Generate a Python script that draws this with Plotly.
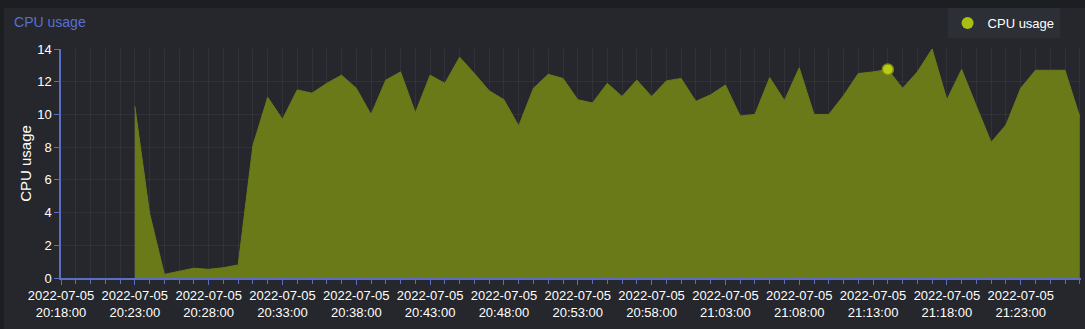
import plotly.graph_objects as go
import pandas as pd

start_time = "2022-07-05 20:23:00"
cpu_usage = [10.5, 3.95, 0.22, 0.43, 0.6, 0.53, 0.63, 0.8, 8.1, 11.05, 9.7, 11.5,
             11.3, 11.9, 12.4, 11.6, 10.0, 12.1, 12.6, 10.1, 12.4, 11.9, 13.5, 12.5,
             11.45, 10.9, 9.3, 11.6, 12.45, 12.2, 10.9, 10.7, 11.9, 11.1, 12.1, 11.1,
             12.05, 12.2, 10.8, 11.2, 11.8, 9.9, 10.0, 12.25, 10.85, 12.85, 10.0, 10.0,
             11.15, 12.5, 12.6, 12.75, 11.6, 12.6, 14.0, 10.9, 12.75, 10.5, 8.3, 9.35,
             11.6, 12.7, 12.7, 12.7, 9.85]
times = pd.date_range(start_time, periods=len(cpu_usage), freq="1min")
hover_index = 51
x_range = ["2022-07-05 20:18:00", "2022-07-05 21:27:05"]
y_ticks = [0, 2, 4, 6, 8, 10, 12, 14]

fill_color = "#6b7a19"
marker_color = "#a8bf14"
axis_color = "#5a6fc4"
grid_color = "rgba(255,255,255,0.055)"
panel_bg = "#25272c"

fig = go.Figure()
fig.add_trace(go.Scatter(
    x=times, y=cpu_usage, mode="lines", name="CPU usage",
    line=dict(color=fill_color, width=1), fill="tozeroy",
    fillcolor=fill_color, showlegend=False,
))
fig.add_trace(go.Scatter(
    x=[times[hover_index]], y=[cpu_usage[hover_index]], mode="markers",
    marker=dict(color="#b8cc14", size=11, line=dict(color="#7d8c12", width=1.5)),
    showlegend=False, hoverinfo="skip",
))
# legend entry
fig.add_trace(go.Scatter(
    x=[None], y=[None], mode="markers", name="CPU usage",
    marker=dict(color=marker_color, size=10),
))

fig.update_layout(
    width=1085, height=329,
    margin=dict(l=61, r=4, t=49, b=51, autoexpand=False),
    paper_bgcolor=panel_bg, plot_bgcolor=panel_bg,
    font=dict(family="Liberation Sans, Arial, sans-serif", color="#ffffff", size=13),
    title=dict(text="CPU usage", x=0.013, xanchor="left", y=1 - 22 / 329, yanchor="middle",
               font=dict(color="#5a6fd0", size=14)),
    legend=dict(x=0.979, xanchor="right", y=1 + 26 / 229, yanchor="middle",
                bgcolor="#2c2f35", font=dict(color="#ffffff", size=13),
                itemsizing="constant"),
    shapes=[
        dict(type="rect", xref="paper", yref="paper", x0=-0.1, x1=1.1,
             y0=1.0 + 41 / 229, y1=1.3, fillcolor="#1c1e22", line=dict(width=0), layer="below"),
        dict(type="rect", xref="paper", yref="paper", x0=-0.1, x1=-57 / 1020,
             y0=-0.3, y1=1.3, fillcolor="#1c1e22", line=dict(width=0), layer="below"),
    ],
    hovermode=False,
)
fig.update_xaxes(
    type="date", range=x_range,
    dtick=5 * 60 * 1000, tick0="2022-07-05 20:18:00",
    tickformat="%Y-%m-%d<br>%H:%M:%S",
    showgrid=True, gridcolor=grid_color, gridwidth=1,
    showline=True, linecolor=axis_color, linewidth=1.5,
    ticks="outside", ticklen=5, tickcolor=axis_color,
    tickfont=dict(size=13, color="#ffffff"),
    minor=dict(dtick=60 * 1000, ticks="outside", ticklen=4, tickcolor=axis_color,
               showgrid=True, gridcolor=grid_color),
    zeroline=False,
)
fig.update_yaxes(
    range=[0, 14], tickvals=y_ticks,
    showgrid=True, gridcolor=grid_color,
    showline=True, linecolor=axis_color, linewidth=1.5,
    ticks="outside", ticklen=5, tickcolor=axis_color,
    tickfont=dict(size=13, color="#ffffff"),
    title=dict(text="CPU usage", font=dict(size=15, color="#ffffff"), standoff=2),
    zeroline=False,
)

fig.write_html("out.html")
